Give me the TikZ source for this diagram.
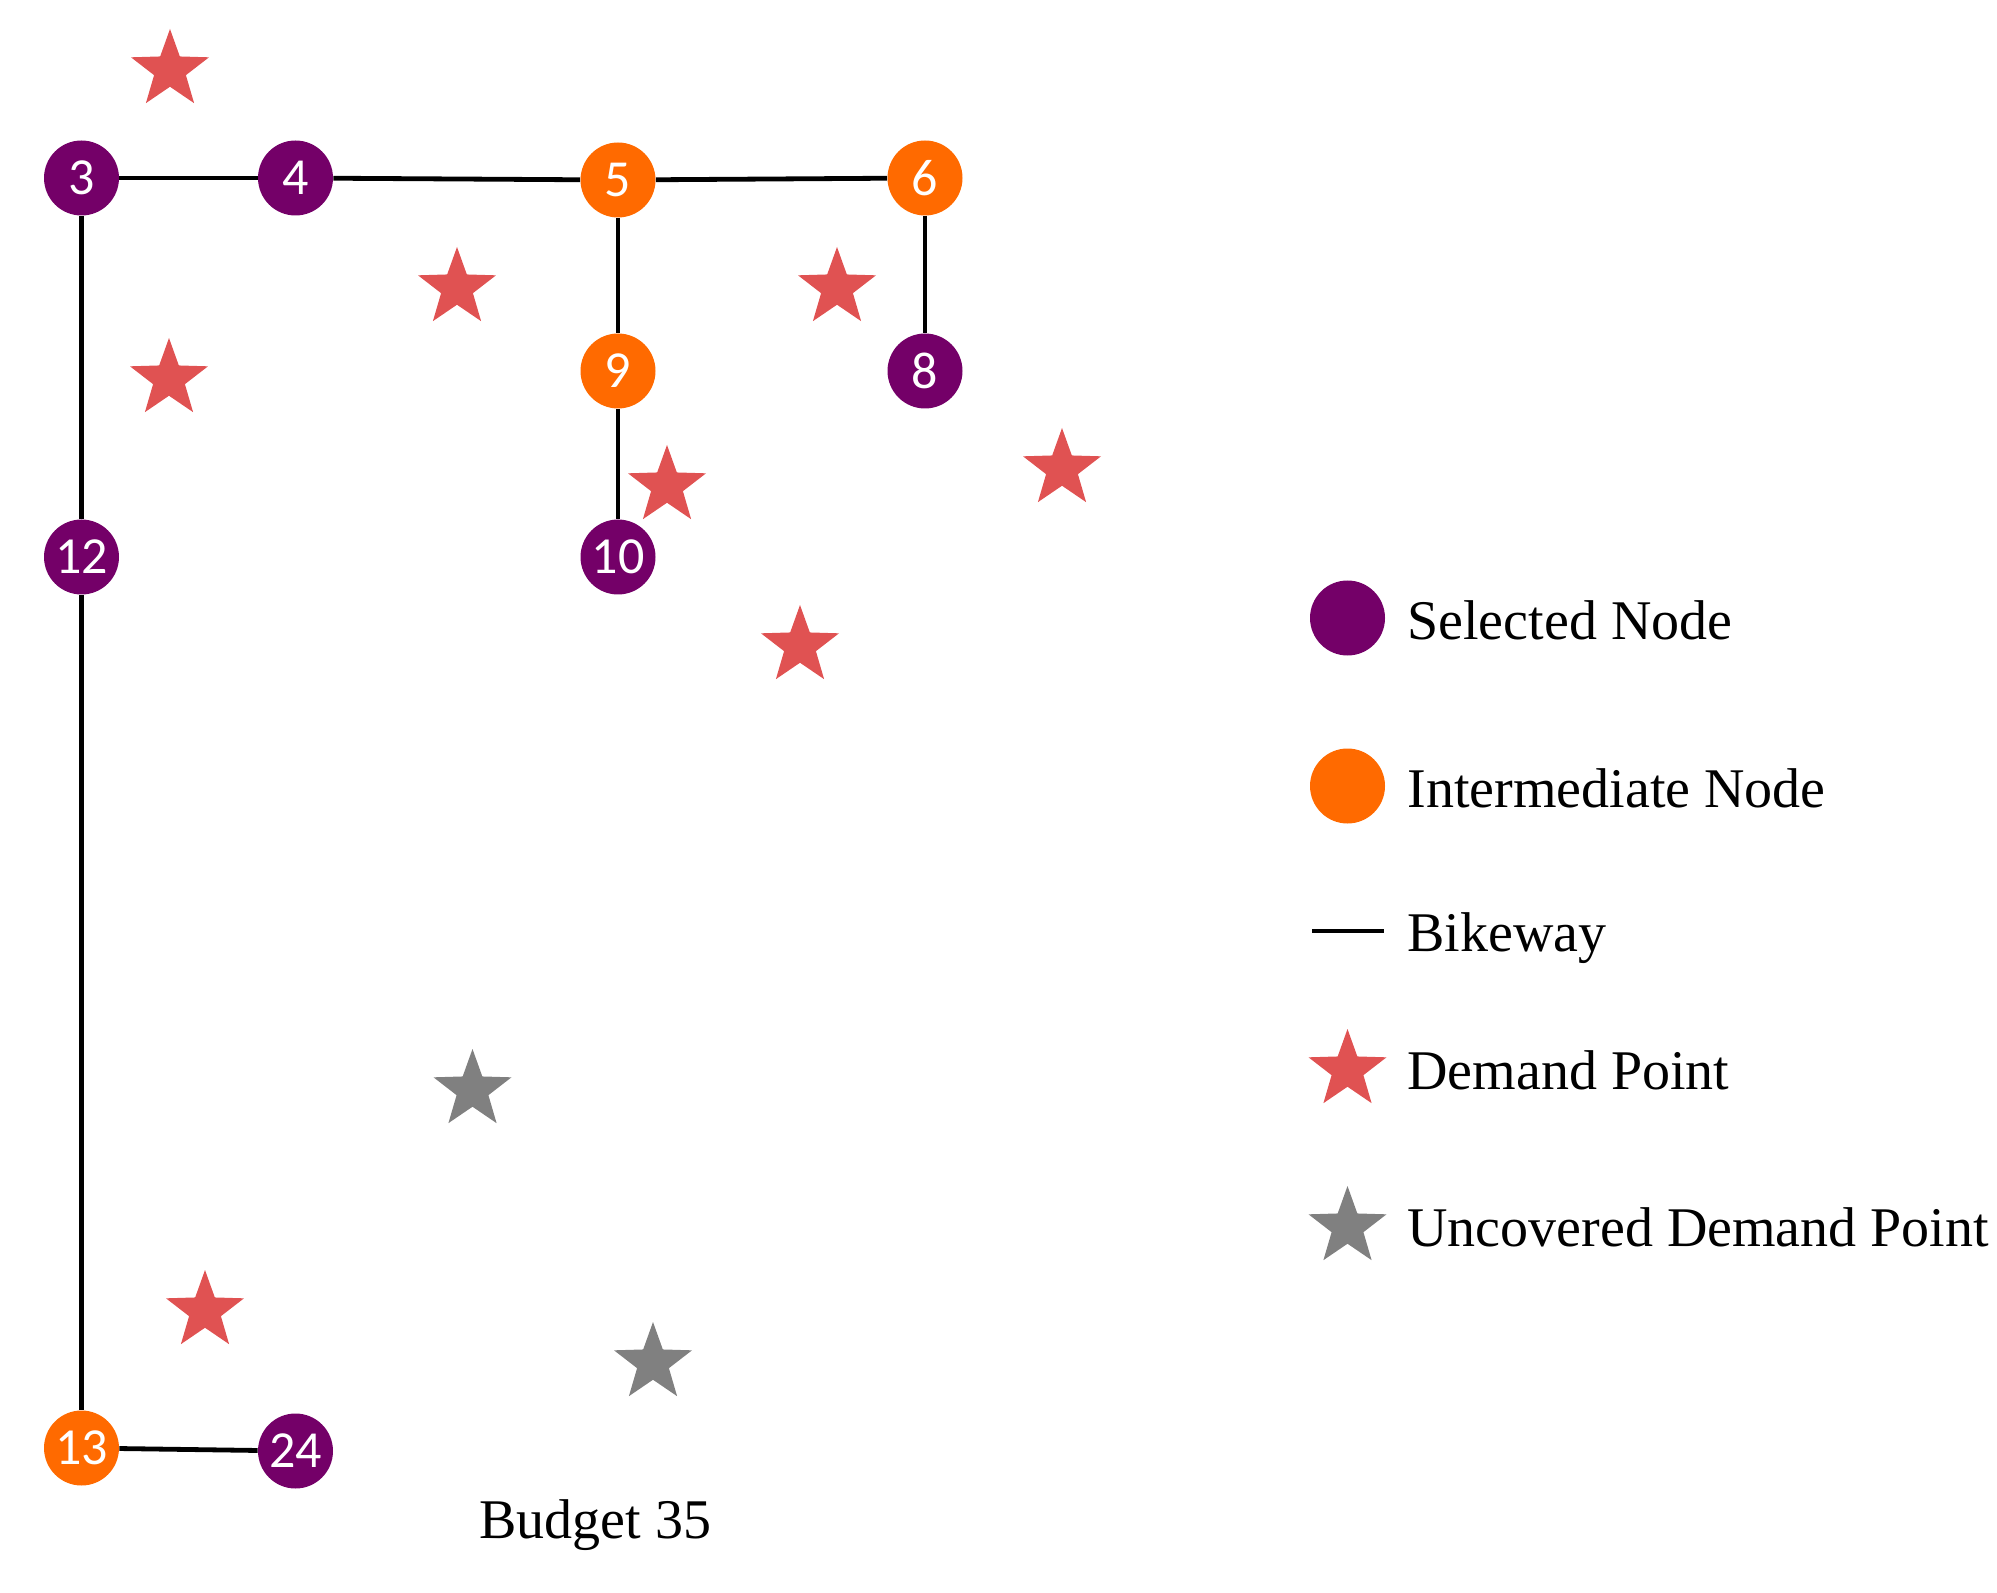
\documentclass[tikz,border=0pt]{standalone}
\usepackage{fontspec}
\setmainfont{Liberation Serif}
\newfontfamily\numfont{Carlito}
\usetikzlibrary{shapes.geometric}
\definecolor{selpurple}{HTML}{740068}
\definecolor{intorange}{HTML}{FF6A00}
\definecolor{demred}{HTML}{E05252}
\definecolor{uncgrey}{HTML}{808080}
\tikzset{
  netnode/.style={circle,inner sep=0pt,minimum size=37.5pt,text=white,font=\numfont\fontsize{26}{26}\selectfont},
  selnode/.style={netnode,fill=selpurple},
  intnode/.style={netnode,fill=intorange},
  road/.style={line width=2.4pt,black},
  demstar/.style={star,star points=5,star point ratio=2.45,minimum size=41pt,inner sep=0pt,fill=demred,draw=none},
  uncstar/.style={demstar,fill=uncgrey},
  legtext/.style={anchor=base west,inner sep=0pt,font=\fontsize{28}{28}\selectfont}
}
\begin{document}
\begin{tikzpicture}[x=0.5pt,y=-0.5pt]
\useasboundingbox (0,0) rectangle (1997,1593);
% network nodes
\node[selnode] (n3)  at (81.5,178) {3};
\node[selnode] (n4)  at (295.5,178) {4};
\node[intnode] (n5)  at (618,180) {5};
\node[intnode] (n6)  at (925,178) {6};
\node[intnode] (n9)  at (618,371) {9};
\node[selnode] (n8)  at (925,371) {8};
\node[selnode] (n12) at (81.5,557) {12};
\node[selnode] (n10) at (618,557) {10};
\node[intnode] (n13) at (81.5,1448) {13};
\node[selnode] (n24) at (295.5,1451) {24};
% bikeways
\draw[road] (n3) -- (n4);
\draw[road] (n4) -- (n5);
\draw[road] (n5) -- (n6);
\draw[road] (n5) -- (n9);
\draw[road] (n9) -- (n10);
\draw[road] (n6) -- (n8);
\draw[road] (n3) -- (n12);
\draw[road] (n12) -- (n13);
\draw[road] (n13) -- (n24);
% demand points
\node[demstar] (d1) at (170,70) {};
\node[demstar] (d2) at (457,288) {};
\node[demstar] (d3) at (837,288) {};
\node[demstar] (d4) at (169,379) {};
\node[demstar] (d5) at (667,486) {};
\node[demstar] (d6) at (1062,469) {};
\node[demstar] (d7) at (800,646) {};
\node[demstar] (d8) at (205,1311) {};
\node[uncstar] (u1) at (472.5,1090) {};
\node[uncstar] (u2) at (653,1363) {};
% caption
\node[legtext] (cap) at (479,1538.5) {Budget 35};
% legend
\node[selnode] (lsel) at (1347.5,618) {};
\node[legtext] (tsel) at (1407,639.5) {Selected Node};
\node[intnode] (lint) at (1347.5,786) {};
\node[legtext] (tint) at (1407,807.5) {Intermediate Node};
\coordinate (lb1) at (1312,931);
\coordinate (lb2) at (1384,931);
\draw[road] (lb1) -- (lb2);
\node[legtext] (tbike) at (1407,951.5) {Bikeway};
\node[demstar] (ldem) at (1347.5,1070) {};
\node[legtext] (tdem) at (1407,1089) {Demand Point};
\node[uncstar] (lunc) at (1347.5,1227) {};
\node[legtext] (tunc) at (1407,1246) {Uncovered Demand Point};
\end{tikzpicture}
\end{document}
